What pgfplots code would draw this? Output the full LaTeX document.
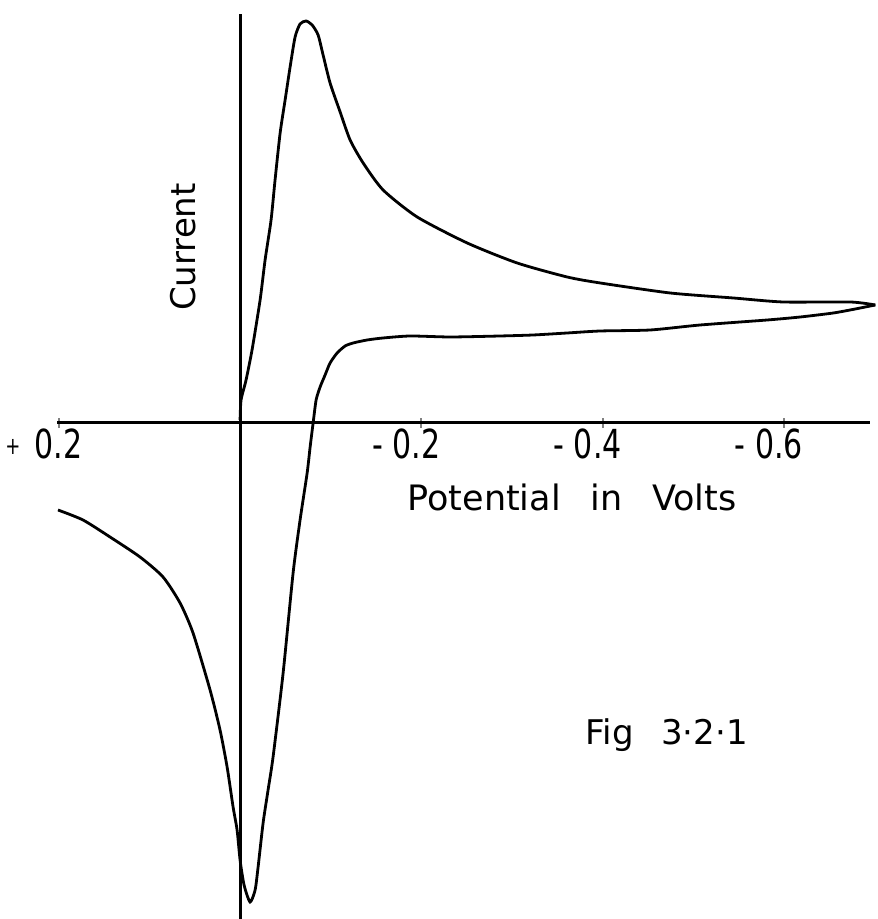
\documentclass[border=0pt]{standalone}
\usepackage{fontspec}
\setmainfont{DejaVu Sans}
\newfontfamily\tickfont[FakeStretch=0.75]{DejaVu Sans}
\usepackage{pgfplots}
\pgfplotsset{compat=1.18}
\begin{document}
\begin{tikzpicture}
\useasboundingbox (-28.5pt,0pt) rectangle (410pt,459.5pt);
\begin{axis}[
  scale only axis, width=406.5pt, height=452.5pt,
  axis lines=middle, axis line style={-, line width=1.5pt},
  x dir=reverse,
  xmin=-0.695, xmax=0.202, ymin=-4.96, ymax=4.09,
  xtick={-0.6,-0.4,-0.2,0.2},
  xticklabels={{- 0.6},{- 0.4},{- 0.2},{\raisebox{0.1em}{\fontsize{12}{12}\selectfont +}\hspace{0.35em}0.2}},
  ytick=\empty,
  major tick length=5pt,
  tick style={line width=1pt},
  xticklabel style={font=\tickfont\fontsize{20}{20}\selectfont, anchor=center, xshift=-7.5pt, yshift=-8pt},
  every axis x label/.style={at={(0.6335,0.4663)}, anchor=center, font=\fontsize{17.5}{17.5}\selectfont},
  every axis y label/.style={at={(0.155,0.7425)}, anchor=center, rotate=90, font=\fontsize{17}{17}\selectfont},
  xlabel={Potential\hspace{0.85em}in\hspace{0.85em}Volts},
  ylabel={Current},
  clip=false,
]
% forward branch
\addplot[black, line width=1.4pt, smooth, tension=0.4] coordinates {
(0.2009,-0.87) (0.1733,-0.97) (0.1435,-1.14) (0.1104,-1.34) (0.0850,-1.54)
(0.0662,-1.80) (0.0519,-2.10) (0.0331,-2.67) (0.0221,-3.07) (0.0143,-3.44)
(0.0077,-3.84) (0.0033,-4.07) (0.0,-4.37) (-0.0044,-4.62) (-0.0110,-4.79)
(-0.0166,-4.67) (-0.0199,-4.44) (-0.0254,-4.00) (-0.0309,-3.67) (-0.0364,-3.34)
(-0.0475,-2.50) (-0.0585,-1.50) (-0.0662,-0.97) (-0.0740,-0.50) (-0.0773,-0.24)
(-0.0806,0.0) (-0.0839,0.23) (-0.0883,0.36) (-0.0938,0.48) (-0.0993,0.60)
(-0.1071,0.70) (-0.1159,0.77) (-0.1247,0.80) (-0.1402,0.83) (-0.1578,0.85)
(-0.1876,0.87) (-0.2318,0.86) (-0.2870,0.87) (-0.3234,0.88) (-0.3609,0.90)
(-0.3974,0.92) (-0.4525,0.93) (-0.5077,0.98) (-0.5817,1.03) (-0.6181,1.06)
(-0.6545,1.10) (-0.6788,1.14) (-0.7009,1.18)
};
% return branch
\addplot[black, line width=1.4pt, smooth, tension=0.4] coordinates {
(-0.7009,1.18) (-0.6733,1.21) (-0.5993,1.21) (-0.5442,1.25) (-0.4746,1.30)
(-0.3974,1.40) (-0.3609,1.46) (-0.3057,1.60) (-0.2506,1.80) (-0.1954,2.06)
(-0.1578,2.33) (-0.1358,2.60) (-0.1214,2.83) (-0.1104,3.11) (-0.0993,3.40)
(-0.0916,3.68) (-0.0861,3.88) (-0.0795,3.98) (-0.0728,4.02) (-0.0662,3.99)
(-0.0607,3.86) (-0.0552,3.56) (-0.0497,3.23) (-0.0442,2.90) (-0.0386,2.43)
(-0.0342,2.03) (-0.0276,1.63) (-0.0221,1.23) (-0.0132,0.73) (-0.0066,0.43)
(-0.0011,0.23) (0.0,0.03)
};
\node[font=\fontsize{17}{17}\selectfont, anchor=center] at (rel axis cs:0.75,0.2033) {Fig\hspace{0.8em}3·2·1};
\end{axis}
\end{tikzpicture}
\end{document}
